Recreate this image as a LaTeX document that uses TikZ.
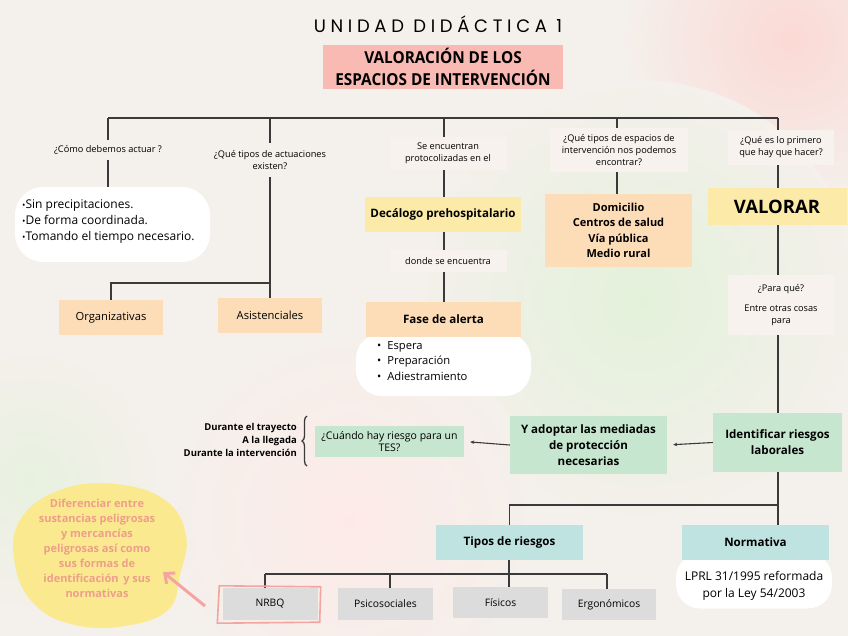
\documentclass[tikz,border=0pt]{standalone}
\usepackage{fontspec}
\setmainfont{Open Sans}
\newfontfamily\titlefont[LetterSpace=26]{Poppins}
\newfontfamily\condfont[FakeStretch=0.93]{Open Sans}
\usetikzlibrary{decorations.pathreplacing,arrows.meta}
\definecolor{bg}{HTML}{F4F0EB}
\definecolor{pinkbox}{HTML}{F8BAB3}
\definecolor{orangebox}{HTML}{FCDDB8}
\definecolor{yellowbox}{HTML}{FBEAA8}
\definecolor{greenbox}{HTML}{C6E6CF}
\definecolor{tealbox}{HTML}{BFE3E1}
\definecolor{graybox}{HTML}{DCDCDC}
\definecolor{labelbox}{HTML}{F7F2EE}
\definecolor{linec}{HTML}{3A3A3A}
\definecolor{blobc}{HTML}{FBE98F}
\definecolor{blobtext}{HTML}{EE9E8A}
\definecolor{pinkmark}{HTML}{F4A5A2}
\newcommand{\mybul}{\raisebox{0.1ex}{\scalebox{0.75}{\textbullet}}}
\tikzset{
  box/.style={rectangle, inner sep=0pt, align=center, text=black},
  lbl/.style={box, fill=labelbox, font=\fontsize{9.2}{12}\selectfont},
  lblnofill/.style={box, font=\fontsize{9.2}{12}\selectfont},
  bbold/.style={font=\fontsize{11.6}{16}\selectfont\bfseries},
  gray/.style={box, fill=graybox, minimum width=95pt, minimum height=32pt, font=\fontsize{10.3}{12}\selectfont},
  conn/.style={draw=linec, line width=1.1pt},
  arr/.style={conn, -{Stealth[length=4pt,width=3.5pt]}, shorten >=6pt},
  white/.style={fill=white, rounded corners=28pt}
}
\begin{document}
\begin{tikzpicture}[x=1pt,y=-1pt]
\fill[bg] (0,0) rectangle (848,636);
\useasboundingbox (0,0) rectangle (848,636);
% soft background tints
\shade[inner color=pinkbox!55, outer color=bg] (790,40) circle (170);
\shade[inner color=green!7!bg, outer color=bg] (640,300) circle (220);
\shade[inner color=pinkbox!30, outer color=bg] (350,520) circle (190);
\shade[inner color=green!5!bg, outer color=bg] (30,480) circle (130);

% title
\node[box, font=\fontsize{18}{20}\selectfont\titlefont] (title) at (438,24) {UNIDAD DIDÁCTICA 1};
\node[box, fill=pinkbox, minimum width=240pt, minimum height=44pt,
      font=\fontsize{16.5}{22}\selectfont\condfont\bfseries] (head) at (443,67) {VALORACIÓN DE LOS\\ESPACIOS DE INTERVENCIÓN};

% top bar
\coordinate (t1) at (108,118);
\coordinate (t2) at (270,118);
\coordinate (t3) at (444,118);
\coordinate (t4) at (617,118);
\coordinate (t5) at (778,118);
\draw[conn] (t1) -- (t5);

% column 1
\node[lblnofill, minimum height=20pt] (lab1) at (108,150) {¿Cómo debemos actuar ?};
\node[box, white, minimum width=195pt, minimum height=75pt] (list1) at (112.5,224.5) {};
\node[box, anchor=west, align=left, font=\fontsize{12}{16}\selectfont] (items1) at (22,222)
      {\mybul Sin precipitaciones.\\\mybul De forma coordinada.\\\mybul Tomando el tiempo necesario.};
\draw[conn] (t1) -- (lab1.north);
\draw[conn] (lab1.south) -- (t1 |- list1.north);

% column 2
\node[lblnofill, minimum height=34pt] (lab2) at (270,160) {¿Qué tipos de actuaciones\\existen?};
\node[box, fill=orangebox, minimum width=104pt, minimum height=35pt, font=\fontsize{11.2}{13}\selectfont] (org) at (111,317.5) {Organizativas};
\node[box, fill=orangebox, minimum width=104pt, minimum height=35pt, font=\fontsize{11.2}{13}\selectfont] (asis) at (270,315.5) {Asistenciales};
\coordinate (j2) at (270,283);
\draw[conn] (t2) -- (lab2.north);
\draw[conn] (lab2.south) -- (j2) -- (asis.north);
\draw[conn] (j2) -- (org.north |- j2) -- (org.north);

% column 3
\node[lbl, minimum width=117pt, minimum height=33pt] (lab3) at (448,153.5) {Se encuentran\\protocolizadas en el};
\node[box, fill=yellowbox, minimum width=156pt, minimum height=35pt, bbold] (deca) at (443,214.5) {Decálogo prehospitalario};
\node[lbl, minimum width=117pt, minimum height=22pt] (lab4) at (448,261) {donde se encuentra};
\node[box, white, rounded corners=26pt, minimum width=175pt, minimum height=63pt] (list3) at (443.5,364.5) {};
\node[box, fill=orangebox, minimum width=155pt, minimum height=35pt, bbold] (fase) at (443.5,319.5) {Fase de alerta};
\node[box, align=left, anchor=north west, font=\fontsize{11.2}{15.5}\selectfont] (items3) at (377,341)
  {\textbullet\hspace{6pt}Espera\\\textbullet\hspace{6pt}Preparación\\\textbullet\hspace{6pt}Adiestramiento};
\draw[conn] (t3) -- (t3 |- lab3.north);
\draw[conn] (t3 |- lab3.south) -- (t3 |- deca.north);
\draw[conn] (t3 |- deca.south) -- (t3 |- lab4.north);
\draw[conn] (t3 |- lab4.south) -- (t3 |- fase.north);

% column 4
\node[lbl, minimum width=138pt, minimum height=44pt] (lab5) at (619,150) {¿Qué tipos de espacios de\\intervención nos podemos\\encontrar?};
\node[box, fill=orangebox, minimum width=147pt, minimum height=73pt, font=\fontsize{11}{15.5}\selectfont\bfseries] (spaces) at (618.5,230.5)
  {Domicilio\\Centros de salud\\Vía pública\\Medio rural};
\draw[conn] (t4) -- (t4 |- lab5.north);
\draw[conn] (t4 |- lab5.south) -- (t4 |- spaces.north);

% column 5
\node[lbl, minimum width=106pt, minimum height=35pt] (lab6) at (781,147.5) {¿Qué es lo primero\\que hay que hacer?};
\node[box, fill=yellowbox, minimum width=139pt, minimum height=37pt, font=\fontsize{18.5}{20}\selectfont\bfseries] (valorar) at (777,206.5) {VALORAR};
\node[lbl, minimum width=106pt, minimum height=60pt] (lab7) at (781,305) {¿Para qué?\\[8pt]Entre otras cosas\\para};
\node[box, fill=greenbox, minimum width=129pt, minimum height=59pt, bbold] (ident) at (777.5,442.5) {Identificar riesgos\\laborales};
\draw[conn] (t5) -- (t5 |- lab6.north);
\draw[conn] (t5 |- lab6.south) -- (t5 |- valorar.north);
\draw[conn] (t5 |- valorar.south) -- (t5 |- lab7.north);
\draw[conn] (t5 |- lab7.south) -- (t5 |- ident.north);

% middle row
\node[box, fill=greenbox, minimum width=157pt, minimum height=58pt, bbold] (adopt) at (588.5,445) {Y adoptar las mediadas\\de protección\\necesarias};
\node[box, fill=greenbox, minimum width=149pt, minimum height=31pt, font=\fontsize{10.5}{12}\selectfont] (tes) at (389.5,441.5) {¿Cuándo hay riesgo para un\\TES?};
\node[box, anchor=east, align=right, font=\fontsize{9.5}{13.3}\selectfont\bfseries] (durante) at (297,440)
  {Durante el trayecto\\A la llegada\\Durante la intervención};
\coordinate (b1) at (307,466);
\coordinate (b2) at (307,416);
\draw[conn, line width=1.3pt, decorate, decoration={brace, amplitude=5pt}] (b1) -- (b2);
\draw[arr] (ident.west) -- (adopt.east);
\draw[arr] (adopt.west) -- (tes.east);

% bottom
\node[box, white, rounded corners=24pt, minimum width=156pt, minimum height=55pt] (lprlbg) at (754,581) {};
\node[box, fill=tealbox, minimum width=147pt, minimum height=35pt, bbold] (tipos) at (509.5,542.5) {Tipos de riesgos};
\node[box, fill=tealbox, minimum width=147pt, minimum height=35pt, bbold] (norma) at (755.5,542.5) {Normativa};
\node[box, font=\fontsize{12}{17}\selectfont] (lprl) at (754,585.5) {LPRL 31/1995 reformada\\por la Ley 54/2003};
\coordinate (j5) at (778,505);
\draw[conn] (ident.south -| t5) -- (t5 |- norma.north);
\draw[conn] (j5) -- (tipos.north |- j5) -- (tipos.north);

\node[gray] (nrbq) at (270,604) {NRBQ};
\node[gray] (psico) at (385.5,604) {Psicosociales};
\node[gray, minimum height=31pt] (fisicos) at (500.5,602.5) {Físicos};
\node[gray, minimum width=94pt, minimum height=31pt] (ergo) at (609,604.5) {Ergonómicos};
\coordinate (j6) at (509,574);
\coordinate (h1) at (265,574);
\coordinate (h2) at (390,574);
\coordinate (h4) at (607,574);
\draw[conn] (tipos.south -| j6) -- (j6);
\draw[conn] (h1) -- (h4);
\draw[conn] (h1) -- (h1 |- nrbq.north);
\draw[conn] (h2) -- (h2 |- psico.north);
\draw[conn] (j6) -- (j6 |- fisicos.north);
\draw[conn] (h4) -- (h4 |- ergo.north);

% pink highlight around NRBQ
\draw[pinkmark, line width=1.6pt] ([xshift=-3pt,yshift=2pt]nrbq.north west) -- ([xshift=3pt,yshift=1pt]nrbq.north east)
  -- ([xshift=2pt,yshift=-2pt]nrbq.south east) -- ([xshift=-5pt,yshift=-3pt]nrbq.south west) -- cycle;

% yellow blob
\fill[blobc] plot[smooth cycle, tension=0.7] coordinates {
  (60,490) (115,484) (165,500) (186,535) (180,575) (168,610) (125,626) (75,625) (35,605) (15,565) (20,520)};
\node[box, text=blobtext, font=\fontsize{11}{15}\selectfont\bfseries] (blobtxt) at (97,548)
  {Diferenciar entre\\sustancias peligrosas\\y mercancías\\peligrosas así como\\sus formas de\\identificación\, y sus\\normativas};
\coordinate (pa) at (205,606);
\coordinate (pb) at (163,572);
\draw[pinkmark, line width=3pt, -{Straight Barb[length=8pt,width=14pt]}] (pa) -- (pb);
\end{tikzpicture}
\end{document}
